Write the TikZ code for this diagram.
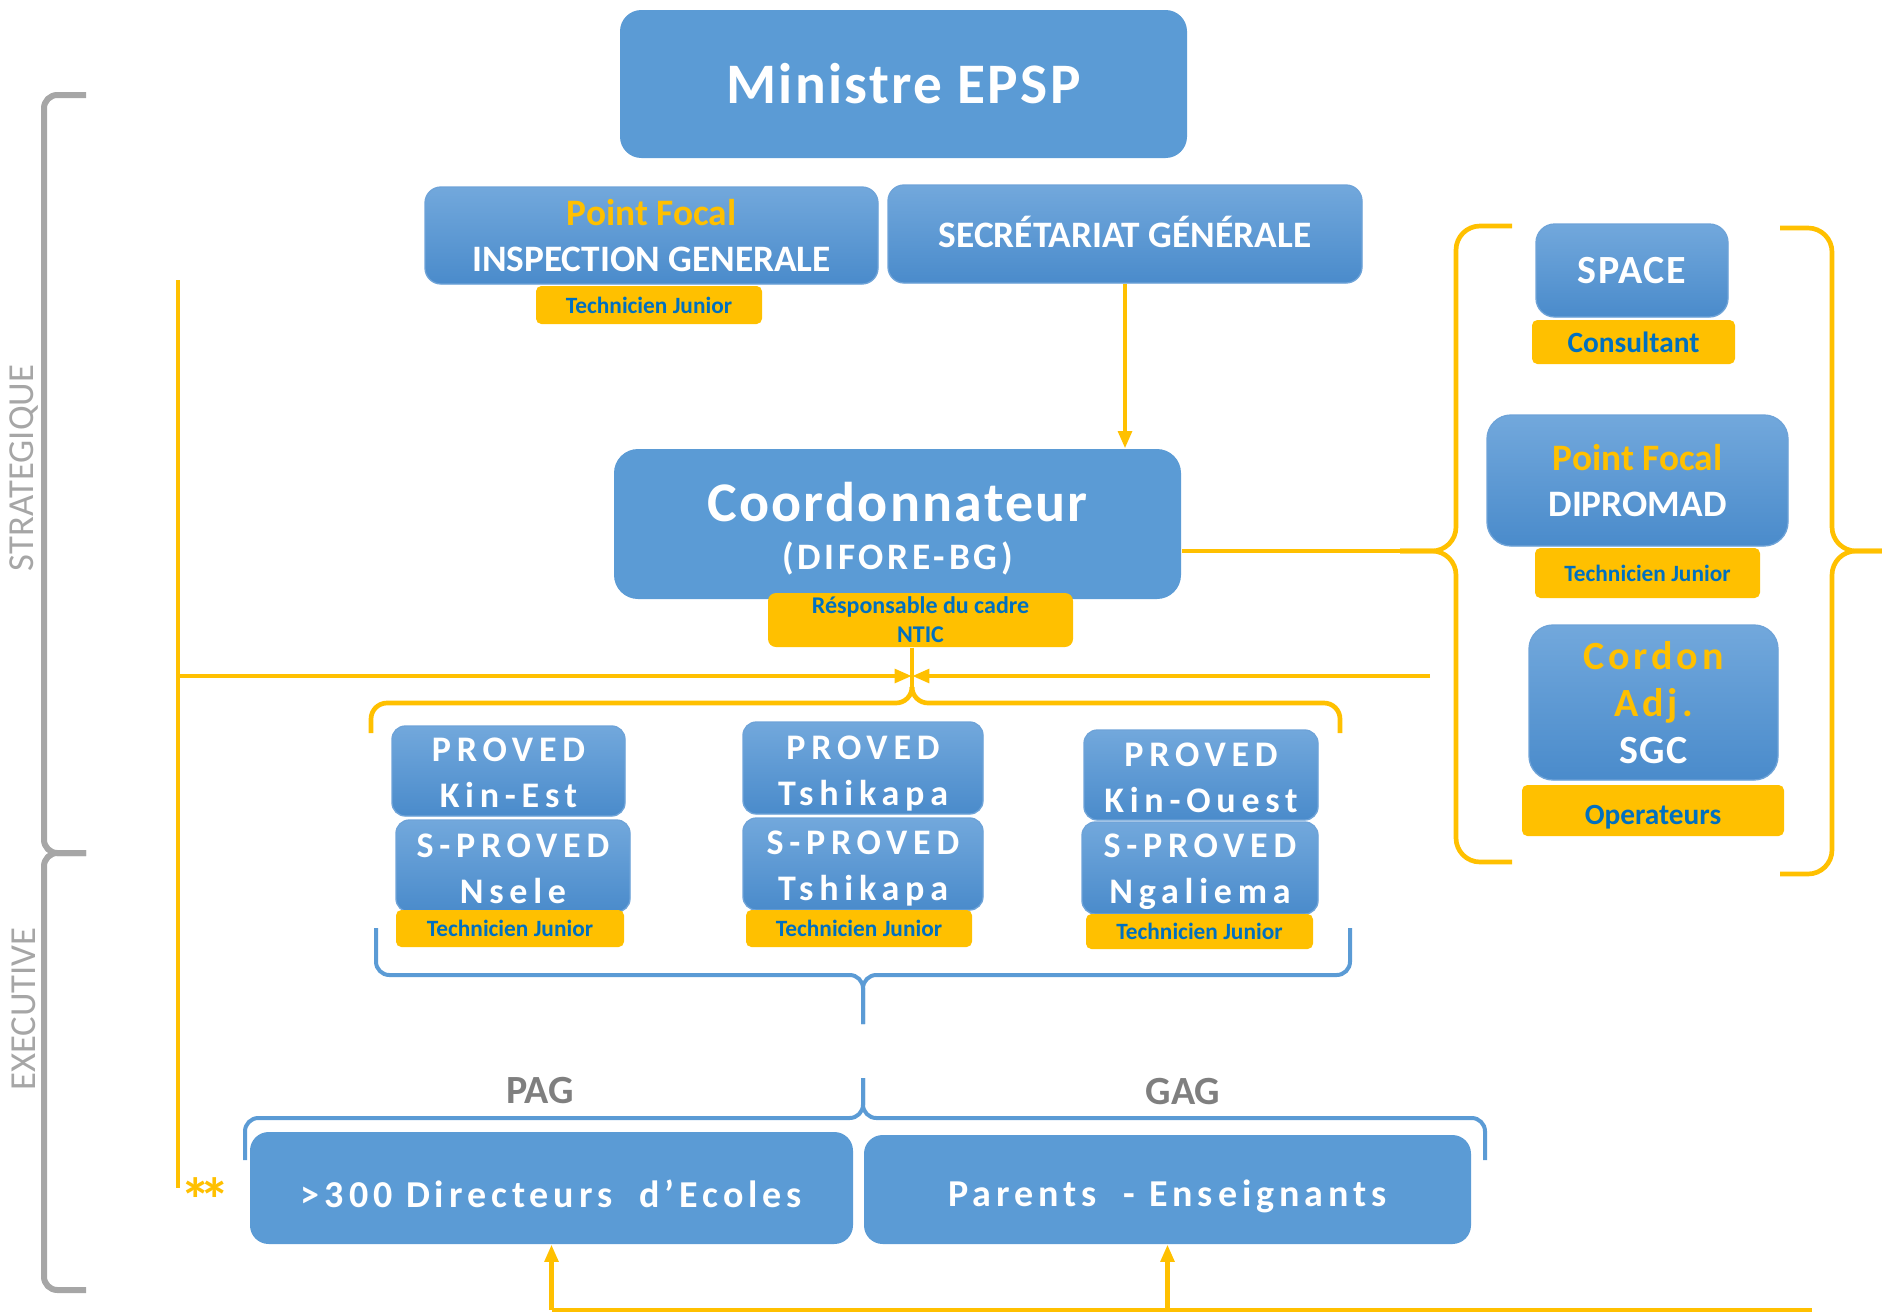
\documentclass[tikz,border=0pt]{standalone}
\usepackage{fontspec}
\setmainfont{Carlito}
\newfontfamily\lsone{Carlito}[LetterSpace=4]
\newfontfamily\lstwo{Carlito}[LetterSpace=10]
\newfontfamily\lsthree{Carlito}[LetterSpace=16]
\newfontfamily\lsfour{Carlito}[LetterSpace=13]
\usetikzlibrary{arrows.meta}

\definecolor{boxblue}{HTML}{5B9BD5}
\definecolor{gradtop}{HTML}{72A8DC}
\definecolor{gradbot}{HTML}{4A8BCB}
\definecolor{gradedge}{HTML}{6EA3D8}
\definecolor{gold}{HTML}{FFC000}
\definecolor{tagblue}{HTML}{0070C0}
\definecolor{lvlgray}{HTML}{A6A6A6}
\definecolor{paggray}{HTML}{7F7F7F}

\tikzset{every picture/.style={line width=0.75pt},
  wh/.style 2 args={minimum width=#1*0.75pt, minimum height=#2*0.75pt},
  flatbox/.style={fill=boxblue, text=white, rounded corners=14pt, inner sep=0pt, align=center},
  gradbox/.style={flatbox, top color=gradtop, bottom color=gradbot, draw=gradedge, line width=1pt},
  provbox/.style={gradbox, rounded corners=10pt, font=\lsthree\bfseries\fontsize{27}{34.5}\selectfont},
  tagbox/.style={fill=gold, text=tagblue, rounded corners=4pt, inner sep=0pt, align=center,
    font=\bfseries\fontsize{17.5}{21}\selectfont},
  yline/.style={draw=gold, line width=3.5pt},
  yarrow/.style={yline, -{Triangle[length=13pt,width=10pt]}},
  ybrace/.style={draw=gold, line width=3.5pt, rounded corners=12pt},
  bbrace/.style={draw=boxblue, line width=3pt, rounded corners=10pt},
  gbrace/.style={draw=lvlgray, line width=4.5pt, rounded corners=10pt},
  lvltext/.style={text=lvlgray, rotate=90, font=\fontsize{27.5}{30}\selectfont},
  grptext/.style={text=paggray, font=\bfseries\fontsize{30}{34}\selectfont},
}

\begin{document}
\begin{tikzpicture}[x=0.75pt,y=0.75pt,yscale=-1,xscale=1]
\useasboundingbox (0,0) rectangle (1882,1314);

%Shape: Rounded Rect [id:min]
\node[flatbox, wh={567}{148}, rounded corners=16pt, font=\lsone\bfseries\fontsize{43}{50}\selectfont] (min) at (903.5,84) {Ministre EPSP};
%Shape: Rounded Rect [id:ig]
\node[gradbox, wh={453}{97}, rounded corners=12pt, font=\bfseries\fontsize{28}{34}\selectfont] (ig) at (651.5,235.5) {{\color{gold}Point Focal}\\INSPECTION GENERALE};
\node[tagbox, wh={226}{38}] (igtag) at (649,305) {Technicien Junior};
%Shape: Rounded Rect [id:sg]
\node[gradbox, wh={474}{98}, rounded corners=12pt, font=\bfseries\fontsize{28}{34}\selectfont] (sg) at (1125,234) {SECR\'ETARIAT G\'EN\'ERALE\rule[-3.6pt]{0pt}{3.6pt}};

%Shape: Rounded Rect [id:coord]
\node[flatbox, wh={567}{150}, rounded corners=18pt, font=\lsone\bfseries\fontsize{42}{52}\selectfont] (coord) at (897.5,524) {\rule{0pt}{36pt}Coordonnateur\\[-16pt]{\lstwo\fontsize{28}{30}\selectfont (DIFORE-BG)}};
\node[tagbox, wh={305}{54}, rounded corners=6pt, font=\bfseries\fontsize{18}{21.6}\selectfont] (ntic) at (920.5,620) {R\'esponsable du cadre\\NTIC};

% right group
\node[gradbox, wh={192}{93}, font=\lsone\bfseries\fontsize{30}{34}\selectfont] (space) at (1632,270.5) {SPACE};
\node[tagbox, wh={203}{44}, font=\bfseries\fontsize{22}{26}\selectfont] (cons) at (1633.5,342) {Consultant};
\node[gradbox, wh={301}{131}, rounded corners=18pt, font=\bfseries\fontsize{28}{34}\selectfont] (dipro) at (1637.5,480.5) {{\color{gold}Point Focal}\\DIPROMAD};
\node[tagbox, wh={225}{50}] (diptag) at (1647.5,573) {Technicien Junior};
\node[gradbox, wh={249}{155}, rounded corners=18pt, font=\bfseries\fontsize{30}{35}\selectfont] (sgc) at (1653.5,702.5) {{\color{gold}\lstwo Cordon}\\{\color{gold}\lstwo Adj.}\\{\lsone SGC}};
\node[tagbox, wh={262}{51}, font=\bfseries\fontsize{22}{26}\selectfont] (oper) at (1653,810.5) {\rule{0pt}{24.5pt}Operateurs};

% PROVED
\node[provbox, wh={233}{90}] (pke) at (508.5,771) {\rule{0pt}{20.6pt}PROVED\\Kin-Est};
\node[provbox, wh={234}{92}] (spn) at (513,866) {\rule{0pt}{22.5pt}S-PROVED\\Nsele};
\node[tagbox, wh={228}{37}] (tke) at (510,928.5) {Technicien Junior};
\node[provbox, wh={240}{92}] (pts) at (863,768) {\rule{0pt}{26pt}PROVED\\Tshikapa};
\node[provbox, wh={240}{92}] (spts) at (863,864) {\rule{0pt}{24.5pt}S-PROVED\\Tshikapa};
\node[tagbox, wh={226}{37}] (tts) at (859,928.5) {Technicien Junior};
\node[provbox, wh={234}{90}] (pko) at (1201,775) {\rule{0pt}{21.4pt}PROVED\\Kin-Ouest};
\node[provbox, wh={236}{92}] (spng) at (1200,868) {\rule{0pt}{24pt}S-PROVED\\Ngaliema};
\node[tagbox, wh={227}{35}] (tko) at (1199.5,931.5) {Technicien Junior};

% bottom boxes
\node[flatbox, wh={603}{112}, font=\lsfour\bfseries\fontsize{28.5}{32}\selectfont] (dir) at (551.5,1188) {\rule{0pt}{29pt}>300 Directeurs\ \ d’Ecoles};
\node[flatbox, wh={607}{109}, font=\lsfour\bfseries\fontsize{28.5}{32}\selectfont] (par) at (1167.5,1189.5) {\rule{0pt}{30pt}Parents\ \ - Enseignants};

% Text Node
\node[grptext] (pag) at (540,1091) {PAG};
\node[grptext] (gag) at (1183,1092) {GAG};
\node[lvltext] (strat) at (24,468) {STRATEGIQUE};
\node[lvltext] (exec) at (24,1009) {EXECUTIVE};
\node[text=gold, font=\bfseries\fontsize{46}{48}\selectfont] (stars) at (205,1200) {*\kern-9pt*};

% coordinates
\coordinate (hub) at (912,676);
\coordinate (ltop) at (178,280);
\coordinate (lbot) at (178,1188);
\coordinate (rend) at (1430,676);
\coordinate (rtip) at (1400,551);
\coordinate (bend) at (1812,1310);

% connectors
\draw[yarrow] (sg.south) -- (sg.south |- coord.north);
\draw[yline] (ltop) -- (lbot);
\draw[yarrow] (ltop |- hub) -- (hub);
\draw[yarrow] (rend) -- (hub);
\draw[yline] (ntic.south -| hub) -- (912,690);
\draw[yline] (coord.east |- rtip) -- (rtip);
\draw[yline] (bend) -- (dir.south |- bend);
\draw[yarrow] (dir.south |- bend) -- (dir.south);
\draw[yarrow] (par.south |- bend) -- (par.south);

% braces
\draw[ybrace] (371,733) |- (912,703) -- (912,688);
\draw[ybrace] (1340,733) |- (912,703) -- (912,688);
\draw[bbrace] (376,928) |- (863,975) -- (863,1024);
\draw[bbrace] (1350,928) |- (863,975) -- (863,1024);
\draw[bbrace] (245,1160) |- (863,1118) -- (863,1078);
\draw[bbrace] (1485,1160) |- (863,1118) -- (863,1078);
\draw[ybrace, rounded corners=18pt] (1512,226) -| (1456,551) -- (1400,551);
\draw[ybrace, rounded corners=18pt] (1512,862) -| (1456,551) -- (1400,551);
\draw[ybrace, rounded corners=18pt] (1780,228) -| (1832,551) -- (1882,551);
\draw[ybrace, rounded corners=18pt] (1780,874) -| (1832,551) -- (1882,551);
\draw[gbrace] (86,95) -| (44,853) -- (86,853);
\draw[gbrace] (86,1290) -| (44,853) -- (86,853);

\end{tikzpicture}
\end{document}
